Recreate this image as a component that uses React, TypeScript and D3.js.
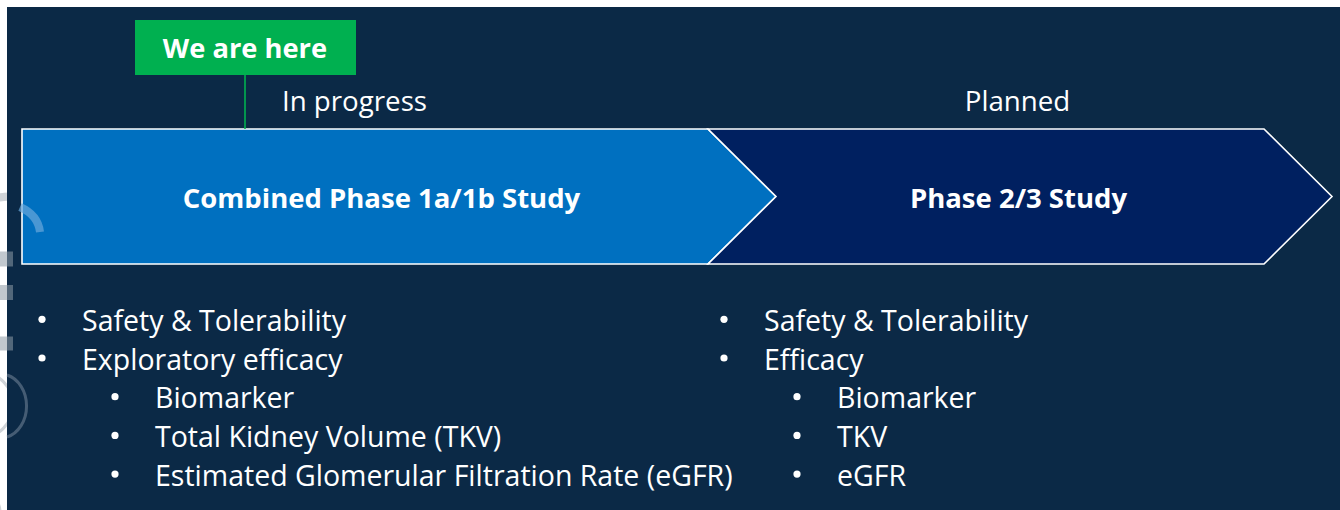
import React from "react";
import * as d3 from "d3";

// ---- Data ----
const stages = ["Combined Phase 1a/1b Study", "Phase 2/3 Study"];
const stageStatus = ["In progress", "Planned"];
const stageColors = ["#0070c0", "#002060"];
const markerLabel = "We are here";

type Item = { text: string; level: number };
const leftItems: Item[] = [
  { text: "Safety & Tolerability", level: 0 },
  { text: "Exploratory efficacy", level: 0 },
  { text: "Biomarker", level: 1 },
  { text: "Total Kidney Volume (TKV)", level: 1 },
  { text: "Estimated Glomerular Filtration Rate (eGFR)", level: 1 },
];
const rightItems: Item[] = [
  { text: "Safety & Tolerability", level: 0 },
  { text: "Efficacy", level: 0 },
  { text: "Biomarker", level: 1 },
  { text: "TKV", level: 1 },
  { text: "eGFR", level: 1 },
];
const itemLists = [leftItems, rightItems];

const W = 1340;
const H = 510;
const FONT = "'Open Sans', 'Noto Sans', sans-serif";

export default function App() {
  // layout scales
  const x = d3.scaleLinear().domain([0, 1]).range([22, 1264]);
  const notch = 68;
  const top = 129;
  const bottom = 264;
  const mid = (top + bottom) / 2;
  const split = 708;
  const bounds = [
    [x(0), split],
    [split, x(1)],
  ];
  const line = d3.line<[number, number]>().x((d) => d[0]).y((d) => d[1]);

  const shapes: [number, number][][] = [
    [
      [bounds[0][0], top],
      [bounds[0][1], top],
      [bounds[0][1] + notch, mid],
      [bounds[0][1], bottom],
      [bounds[0][0], bottom],
    ],
    [
      [bounds[1][0], top],
      [bounds[1][1], top],
      [bounds[1][1] + notch, mid],
      [bounds[1][1], bottom],
      [bounds[1][0], bottom],
      [bounds[1][0] + notch, mid],
    ],
  ];
  const labelCx = [381.5, 1018.5];
  const statusCx = [354.5, 1017.5];

  const rowY = d3.scaleLinear().domain([0, 1]).range([330.8, 369.5]);
  const colX = [42, 724];
  const indent = 73;
  const textGap = 40;

  return (
    <div>
      <style>{"body{margin:0}"}</style>
      <svg width={W} height={H} style={{ display: "block" }}>
        <rect x={0} y={0} width={W} height={H} fill="#ffffff" />
        {/* faint watermark remnants at left edge */}
        <g fill="none" stroke="#c4c9ce" strokeOpacity={0.8} strokeWidth={3}>
          <path d="M -10 200 Q 25 188 40 218 Q 44 228 34 233" strokeWidth={8} />
          <circle cx={-20} cy={405} r={33} />
          <circle cx={-20} cy={512} r={20} />
        </g>
        <rect x={7} y={7} width={W - 7} height={H - 7} fill="#0b2946" />
        <g fill="#8e9aa6" fillOpacity={0.55}>
          <rect x={0} y={251.5} width={13} height={15} />
          <rect x={0} y={285} width={13} height={15} />
          <rect x={0} y={336.5} width={13} height={14} />
        </g>
        <g fill="none" stroke="#7f90a2" strokeOpacity={0.5} strokeWidth={3}>
          <path d="M 7 375 A 26 32 0 0 1 7 437" />
        </g>

        {stages.map((s, i) => (
          <path
            key={s}
            d={line(shapes[i]) + "Z"}
            fill={stageColors[i]}
            stroke="#ffffff"
            strokeWidth={1.6}
            strokeLinejoin="miter"
          />
        ))}
        <path d="M 20 207 Q 38 215 40 232" fill="none" stroke="#6aa8dc" strokeOpacity={0.7} strokeWidth={8} />

        {stages.map((s, i) => (
          <text
            key={s}
            x={labelCx[i]}
            y={207.5}
            textAnchor="middle"
            fill="#ffffff"
            fontFamily={FONT}
            fontWeight={700}
            fontSize={27.5}
          >
            {s}
          </text>
        ))}
        {stageStatus.map((s, i) => (
          <text
            key={s}
            x={statusCx[i]}
            y={111}
            textAnchor="middle"
            fill="#ffffff"
            fontFamily={FONT}
            fontSize={27.7}
          >
            {s}
          </text>
        ))}

        {/* marker */}
        <line x1={245} x2={245} y1={74} y2={129} stroke="#00b050" strokeWidth={1.6} />
        <rect x={135} y={20} width={221} height={55} fill="#00b050" />
        <text
          x={245}
          y={57.5}
          textAnchor="middle"
          fill="#ffffff"
          fontFamily={FONT}
          fontWeight={700}
          fontSize={27.3}
        >
          {markerLabel}
        </text>

        {itemLists.map((items, c) =>
          items.map((it, j) => {
            const bx = colX[c] + it.level * indent;
            const y = rowY(j);
            return (
              <g key={c + "-" + j}>
                <circle cx={bx} cy={y - 11.5} r={3.6} fill="#ffffff" />
                <text x={bx + textGap} y={y} fill="#ffffff" fontFamily={FONT} fontSize={28.5}>
                  {it.text}
                </text>
              </g>
            );
          })
        )}
      </svg>
    </div>
  );
}
